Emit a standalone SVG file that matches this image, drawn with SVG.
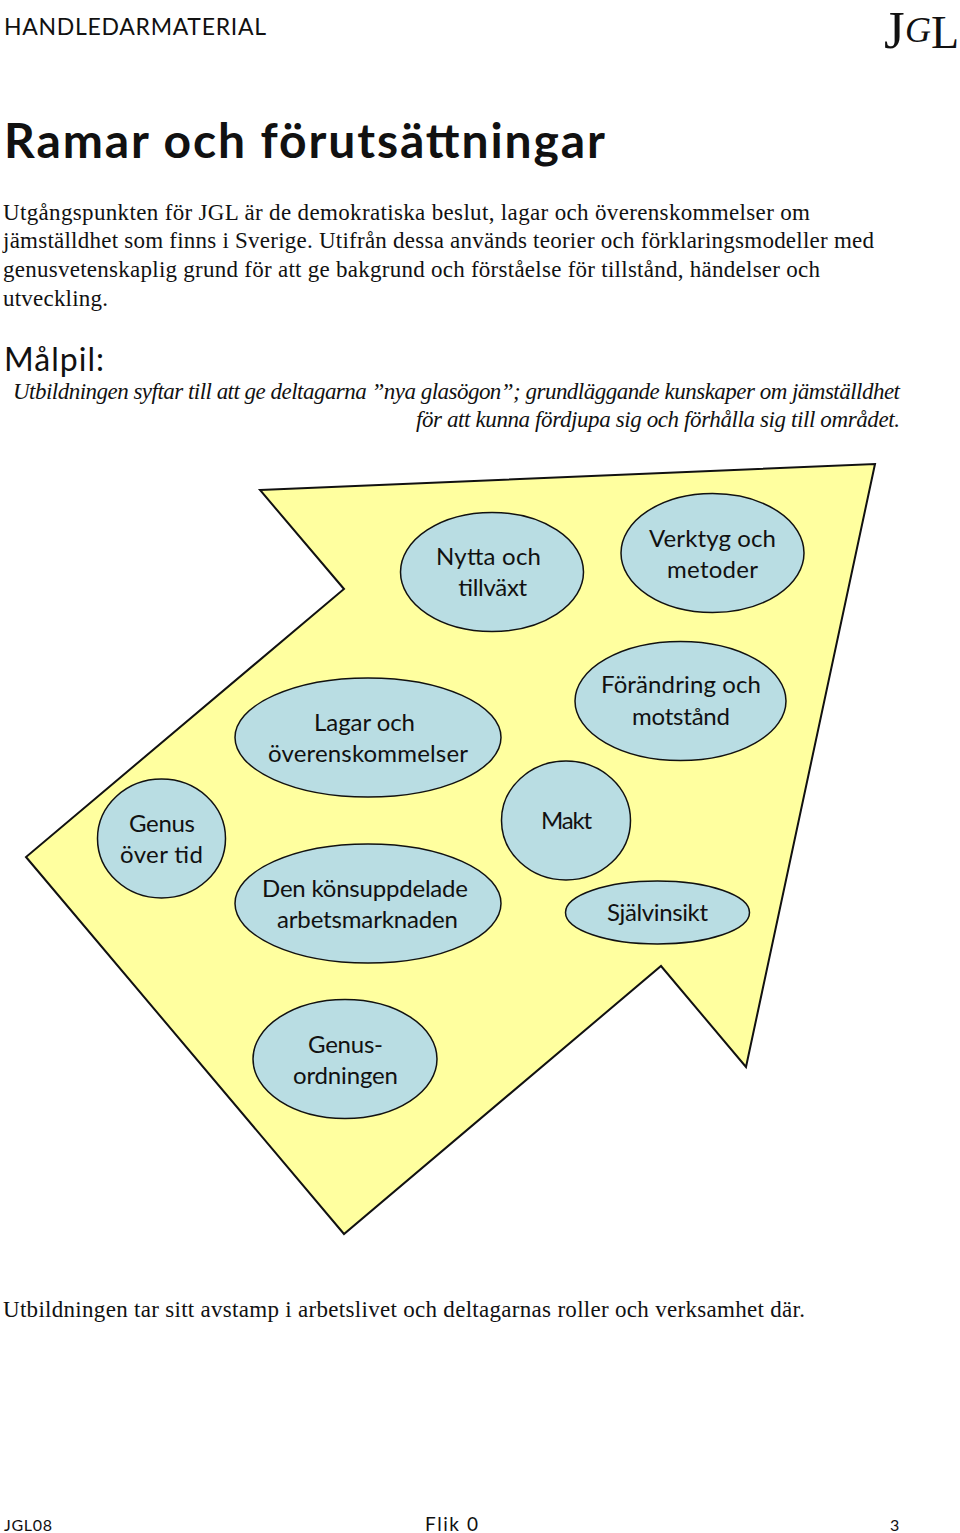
<svg xmlns="http://www.w3.org/2000/svg" width="960" height="1533" viewBox="0 0 960 1533">
<style>
text{fill:#111}
.s{font-family:"Liberation Serif",serif;font-size:23px}
.i{font-family:"Liberation Serif",serif;font-size:23px;font-style:italic}
.h{font-family:Lato,"Open Sans",sans-serif;font-weight:400}
.n{font-family:Lato,"Open Sans",sans-serif;font-size:24px;text-anchor:middle}
.e{fill:#b9dde3;stroke:#111;stroke-width:1.5}
.l{font-family:"Liberation Serif",serif}
</style>
<rect width="960" height="1533" fill="#fff"/>
<g id="header">
<text class="h" x="4" y="35" font-size="23" textLength="262">HANDLEDARMATERIAL</text>
<text class="l" x="884" y="48" font-size="53">J</text>
<text class="l" x="905" y="42" font-size="36" font-style="italic">G</text>
<text class="l" x="931" y="48" font-size="46">L</text>
</g>
<g id="intro">
<text x="4" y="158" font-family="Lato,Liberation Sans,sans-serif" font-size="48" font-weight="bold" textLength="601">Ramar och förutsättningar</text>
<text class="s" x="3" y="220" textLength="807">Utgångspunkten för JGL är de demokratiska beslut, lagar och överenskommelser om</text>
<text class="s" x="3" y="248" textLength="871">jämställdhet som finns i Sverige. Utifrån dessa används teorier och förklaringsmodeller med</text>
<text class="s" x="3" y="277" textLength="817">genusvetenskaplig grund för att ge bakgrund och förståelse för tillstånd, händelser och</text>
<text class="s" x="3" y="306" textLength="105">utveckling.</text>
<text class="h" x="4" y="371" font-size="32" textLength="100">Målpil:</text>
<text class="i" x="13" y="399" textLength="887">Utbildningen syftar till att ge deltagarna ”nya glasögon”; grundläggande kunskaper om jämställdhet</text>
<text class="i" x="416" y="427" textLength="484">för att kunna fördjupa sig och förhålla sig till området.</text>
</g>
<g id="arrow"><polygon points="260,490 875,464 746,1067 661,966 344,1234 26,857 344,589" fill="#ffff9f" stroke="#111" stroke-width="2"/></g>
<g id="connectors"></g>
<g id="n1"><ellipse class="e" cx="492" cy="572" rx="91.500" ry="59.500"/><text class="n" x="488.500" y="565" textLength="105">Nytta och</text><text class="n" x="492.500" y="596" textLength="69">tillväxt</text></g>
<g id="n2"><ellipse class="e" cx="712.500" cy="553" rx="91.500" ry="59.500"/><text class="n" x="712.500" y="547" textLength="127">Verktyg och</text><text class="n" x="712.500" y="578" textLength="91">metoder</text></g>
<g id="n3"><ellipse class="e" cx="680.500" cy="701" rx="105.500" ry="59.500"/><text class="n" x="681" y="693" textLength="160">Förändring och</text><text class="n" x="681" y="725" textLength="98">motstånd</text></g>
<g id="n4"><ellipse class="e" cx="368" cy="737.500" rx="133" ry="59.500"/><text class="n" x="364.500" y="731" textLength="101">Lagar och</text><text class="n" x="368" y="762" textLength="200">överenskommelser</text></g>
<g id="n5"><ellipse class="e" cx="566" cy="820.500" rx="64.500" ry="59.500"/><text class="n" x="566.500" y="829" textLength="51">Makt</text></g>
<g id="n6"><ellipse class="e" cx="161.500" cy="838.500" rx="64" ry="59.500"/><text class="n" x="162" y="832" textLength="66">Genus</text><text class="n" x="161.500" y="863" textLength="83">över tid</text></g>
<g id="n7"><ellipse class="e" cx="368" cy="903.500" rx="133" ry="59.500"/><text class="n" x="365" y="897" textLength="206">Den könsuppdelade</text><text class="n" x="367.500" y="928" textLength="181">arbetsmarknaden</text></g>
<g id="n8"><ellipse class="e" cx="657.500" cy="912.500" rx="92" ry="31.500"/><text class="n" x="657.500" y="921" textLength="101">Självinsikt</text></g>
<g id="n9"><ellipse class="e" cx="345" cy="1059" rx="92" ry="59.500"/><text class="n" x="345.500" y="1053" textLength="75">Genus-</text><text class="n" x="345.500" y="1084" textLength="105">ordningen</text></g>
<g id="footer">
<text class="s" x="3" y="1317" textLength="802">Utbildningen tar sitt avstamp i arbetslivet och deltagarnas roller och verksamhet där.</text>
<text class="h" x="4" y="1531" font-size="16" textLength="48">JGL08</text>
<text class="h" x="425" y="1531" font-size="19" textLength="53">Flik 0</text>
<text class="h" x="890" y="1531" font-size="16">3</text>
</g>
</svg>
